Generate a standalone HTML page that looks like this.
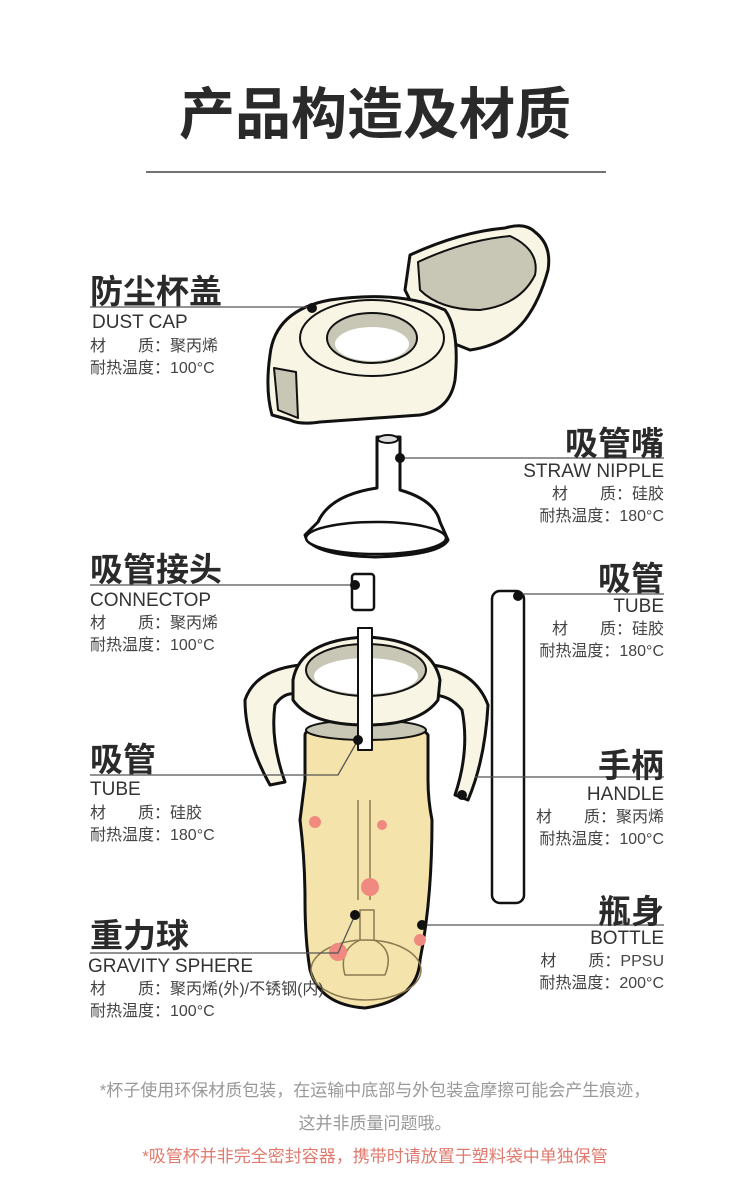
<!DOCTYPE html>
<html><head><meta charset="utf-8"><style>
body{margin:0;background:#fff;}
#c{position:relative;width:750px;height:1201px;overflow:hidden;font-family:"Liberation Sans","Noto Sans CJK SC",sans-serif;color:#333;}
.t{position:absolute;white-space:nowrap;}
.h{font-size:33px;font-weight:bold;color:#2a2a2a;}
.e{font-size:19px;color:#333;}
.s{font-size:16px;color:#444;line-height:22px;}
.r{text-align:right;}
</style></head><body><div id="c">
<svg width="750" height="1201" style="position:absolute;left:0;top:0">
<line x1="146" y1="172" x2="606" y2="172" stroke="#444" stroke-width="1.5"/>
<g stroke="#111" stroke-width="3" stroke-linejoin="round">
<!-- lid -->
<path d="M410 255 Q460 232 505 228 Q525 222 535 232 Q552 245 548 270 Q540 300 525 320 Q505 345 470 350 L445 340 L420 320 L405 290 Z" fill="#f8f5e4"/>
<path d="M418 262 Q465 240 510 236 Q540 250 535 275 Q520 305 480 310 Q440 310 420 290 Z" fill="#c8c6b4" stroke-width="2"/>
<path d="M270 355 Q275 310 330 300 Q400 290 445 310 Q460 330 455 380 Q450 410 420 415 L320 422 Q300 425 290 420 L272 415 Q265 390 270 355 Z" fill="#f8f5e4"/>
<ellipse cx="372" cy="338" rx="72" ry="38" fill="#f8f5e4" stroke-width="2"/>
<ellipse cx="372" cy="338" rx="45" ry="25" fill="#c8c6b4" stroke-width="2"/>
<ellipse cx="372" cy="344" rx="37" ry="17" fill="#fff" stroke-width="0"/>
<path d="M274 368 L296 372 L298 418 L278 410 Z" fill="#c8c6b4" stroke-width="2"/>
<!-- nipple -->
<path d="M377 437 L400 437 L400 490 Q435 500 440 522 L448 540 Q440 555 375 557 Q310 555 305 535 L318 522 Q330 495 377 488 Z" fill="#fff"/>
<ellipse cx="376" cy="538" rx="70" ry="16" fill="#fff" stroke-width="2.5"/>
<ellipse cx="388" cy="439" rx="10" ry="4" fill="#ddd" stroke-width="2"/>
<!-- connector -->
<rect x="352" y="574" width="22" height="36" rx="3" fill="#fff" stroke-width="2.5"/>
<!-- tube right -->
<rect x="492" y="591" width="32" height="312" rx="8" fill="#fff" stroke-width="2.5"/>
<!-- bottle -->
<path d="M305 735 Q305 725 360 722 Q420 722 428 735 L428 780 Q428 800 432 820 Q432 900 420 960 Q418 1000 365 1008 Q320 1005 310 970 Q305 940 305 900 Q305 860 300 820 L305 780 Z" fill="#f4e3aa"/>
<ellipse cx="366" cy="730" rx="60" ry="10" fill="#c8c6b4" stroke-width="2"/>
<line x1="358" y1="800" x2="358" y2="900" stroke="#8a7a50" stroke-width="1.5"/>
<line x1="370" y1="800" x2="370" y2="900" stroke="#8a7a50" stroke-width="1.5"/>
<ellipse cx="366" cy="970" rx="55" ry="30" fill="none" stroke="#8a7a50" stroke-width="1.5"/>
<path d="M360 910 L374 910 L374 940 Q395 950 385 975 L345 975 Q338 950 360 940 Z" fill="none" stroke="#8a7a50" stroke-width="1.5"/>
<!-- handles -->
<path d="M300 665 Q255 670 245 700 Q245 740 270 785 L285 782 Q270 740 275 705 Q285 690 300 695 Z" fill="#f8f5e4"/>
<path d="M432 665 Q475 670 488 705 Q485 760 468 800 L455 795 Q470 750 462 710 Q450 695 432 695 Z" fill="#f8f5e4"/>
<path d="M293 680 Q300 640 366 637 Q432 640 440 680 L438 700 Q420 725 366 725 Q310 725 293 700 Z" fill="#f8f5e4"/>
<ellipse cx="366" cy="670" rx="60" ry="26" fill="#c8c6b4" stroke-width="2"/>
<ellipse cx="366" cy="676" rx="52" ry="18" fill="#fff" stroke-width="0"/>
<rect x="358" y="628" width="14" height="122" fill="#fff" stroke-width="2"/>
</g>
<g fill="#f08a80"><circle cx="315" cy="822" r="6"/><circle cx="370" cy="887" r="9"/><circle cx="338" cy="952" r="9"/><circle cx="420" cy="940" r="6"/><circle cx="382" cy="825" r="5"/></g>
<g stroke="#555" stroke-width="1.3" fill="none">
<line x1="90" y1="307" x2="312" y2="307"/>
<line x1="400" y1="458" x2="664" y2="458"/>
<line x1="90" y1="585" x2="355" y2="585"/>
<line x1="518" y1="594" x2="664" y2="594"/>
<polyline points="90,775 338,775 358,740"/>
<polyline points="475,777 664,777"/>
<line x1="422" y1="925" x2="664" y2="925"/>
<polyline points="90,953 338,953 355,915"/>
</g>
<g fill="#111"><circle cx="312" cy="308" r="5"/><circle cx="400" cy="458" r="5"/><circle cx="355" cy="585" r="5"/><circle cx="518" cy="596" r="5"/><circle cx="358" cy="740" r="5"/><circle cx="462" cy="795" r="5"/><circle cx="422" cy="925" r="5"/><circle cx="355" cy="915" r="5"/></g>
</svg>
<div class="t" style="left:0;width:750px;text-align:center;top:70px;font-size:56px;font-weight:bold;color:#2a2a2a">产品构造及材质</div>

<div class="t h" style="left:90px;top:265px">防尘杯盖</div>
<div class="t e" style="left:92px;top:312px">DUST CAP</div>
<div class="t s" style="left:90px;top:336px">材　　质：聚丙烯<br>耐热温度：100°C</div>

<div class="t h r" style="right:86px;top:417px">吸管嘴</div>
<div class="t e r" style="right:86px;top:461px">STRAW NIPPLE</div>
<div class="t s r" style="right:86px;top:484px">材　　质：硅胶<br>耐热温度：180°C</div>

<div class="t h" style="left:90px;top:543px">吸管接头</div>
<div class="t e" style="left:90px;top:590px">CONNECTOP</div>
<div class="t s" style="left:90px;top:613px">材　　质：聚丙烯<br>耐热温度：100°C</div>

<div class="t h r" style="right:86px;top:552px">吸管</div>
<div class="t e r" style="right:86px;top:596px">TUBE</div>
<div class="t s r" style="right:86px;top:619px">材　　质：硅胶<br>耐热温度：180°C</div>

<div class="t h" style="left:90px;top:733px">吸管</div>
<div class="t e" style="left:90px;top:779px">TUBE</div>
<div class="t s" style="left:90px;top:803px">材　　质：硅胶<br>耐热温度：180°C</div>

<div class="t h r" style="right:86px;top:739px">手柄</div>
<div class="t e r" style="right:86px;top:784px">HANDLE</div>
<div class="t s r" style="right:86px;top:807px">材　　质：聚丙烯<br>耐热温度：100°C</div>

<div class="t h r" style="right:86px;top:885px">瓶身</div>
<div class="t e r" style="right:86px;top:928px">BOTTLE</div>
<div class="t s r" style="right:86px;top:951px">材　　质：PPSU<br>耐热温度：200°C</div>

<div class="t h" style="left:90px;top:909px">重力球</div>
<div class="t e" style="left:88px;top:956px">GRAVITY SPHERE</div>
<div class="t s" style="left:90px;top:979px">材　　质：聚丙烯(外)/不锈钢(内)<br>耐热温度：100°C</div>

<div class="t" style="left:0;width:750px;text-align:center;top:1076px;font-size:17px;color:#999">*杯子使用环保材质包装，在运输中底部与外包装盒摩擦可能会产生痕迹，</div>
<div class="t" style="left:0;width:750px;text-align:center;top:1109px;font-size:17px;color:#999">这并非质量问题哦。</div>
<div class="t" style="left:0;width:750px;text-align:center;top:1142px;font-size:17px;color:#e07a6e">*吸管杯并非完全密封容器，携带时请放置于塑料袋中单独保管</div>
</div></body></html>
